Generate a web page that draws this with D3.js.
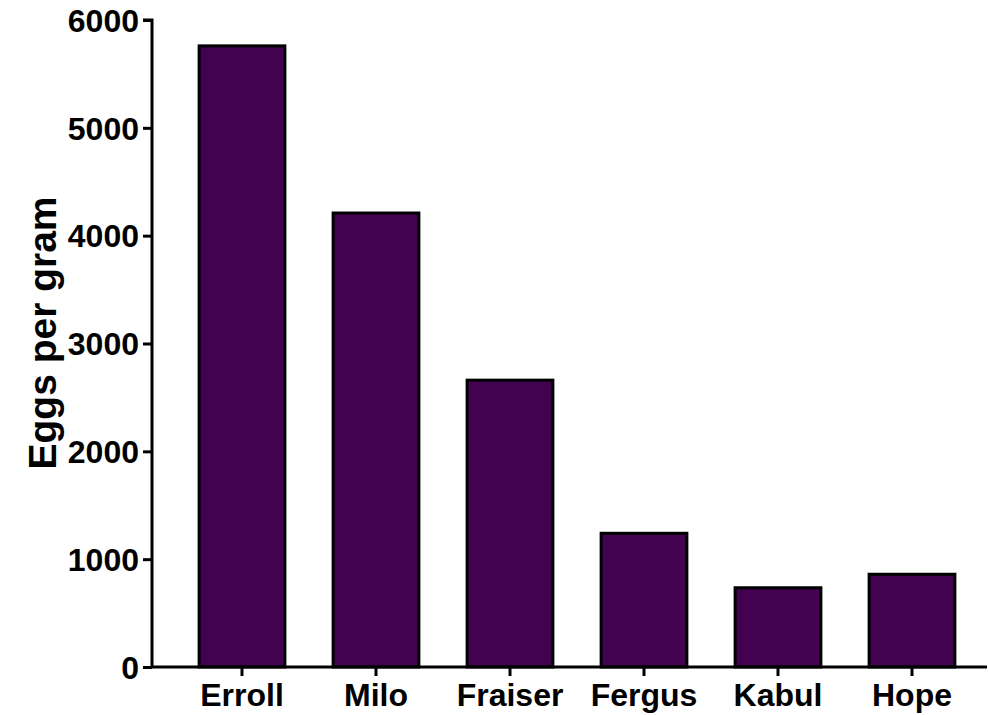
<!DOCTYPE html>
<html>
<head>
<meta charset="utf-8">
<script src="https://cdn.jsdelivr.net/npm/d3@7"></script>
<style>
  html, body { margin: 0; padding: 0; background: #fff; }
  svg text { font-family: "Liberation Sans", Arial, sans-serif; font-weight: bold; fill: #000; }
</style>
</head>
<body>
<svg id="chart" width="989" height="715"></svg>
<script>
// Faecal egg counts per animal
const animals = ["Erroll", "Milo", "Fraiser", "Fergus", "Kabul", "Hope"];
const eggsPerGram = [5760, 4210, 2660, 1240, 735, 860];
const yTicks = [0, 1000, 2000, 3000, 4000, 5000, 6000];
const yTitle = "Eggs per gram";

const svg = d3.select("#chart");
const plotLeft = 152, plotRight = 987, plotTop = 20, plotBottom = 667;

const x = d3.scaleBand()
  .domain(animals)
  .range([175, 979])
  .paddingInner(0.36)
  .paddingOuter(0.18);

const y = d3.scaleLinear()
  .domain([0, 6000])
  .range([plotBottom, plotTop]);

// bars
svg.append("g")
  .selectAll("rect")
  .data(animals.map((a, i) => ({ a, v: eggsPerGram[i] })))
  .join("rect")
  .attr("x", d => x(d.a))
  .attr("y", d => y(d.v))
  .attr("width", x.bandwidth())
  .attr("height", d => y(0) - y(d.v))
  .attr("fill", "#42024f")
  .attr("stroke", "#000")
  .attr("stroke-width", 3);

// y axis
const yAxis = svg.append("g")
  .attr("transform", `translate(${plotLeft},0)`)
  .call(d3.axisLeft(y).tickValues(yTicks).tickFormat(d3.format("d")).tickSize(9).tickPadding(4));
yAxis.select(".domain").attr("stroke-width", 3).attr("d", `M-9,${plotTop}H0V${plotBottom}`);
yAxis.selectAll(".tick line").attr("stroke-width", 3);
yAxis.selectAll(".tick text").style("font-size", "32px").attr("dy", "0.35em");

// x axis
const xAxis = svg.append("g")
  .attr("transform", `translate(0,${plotBottom})`)
  .call(d3.axisBottom(x).tickSize(9).tickPadding(7));
xAxis.select(".domain").attr("stroke-width", 3).attr("d", `M${plotLeft},0H${plotRight}`);
xAxis.selectAll(".tick line").attr("stroke-width", 3);
xAxis.selectAll(".tick text").style("font-size", "32px").attr("dy", "0.71em");

// y title
svg.append("text")
  .attr("transform", `translate(56,333) rotate(-90)`)
  .attr("text-anchor", "middle")
  .style("font-size", "39px")
  .text(yTitle);
</script>
</body>
</html>
